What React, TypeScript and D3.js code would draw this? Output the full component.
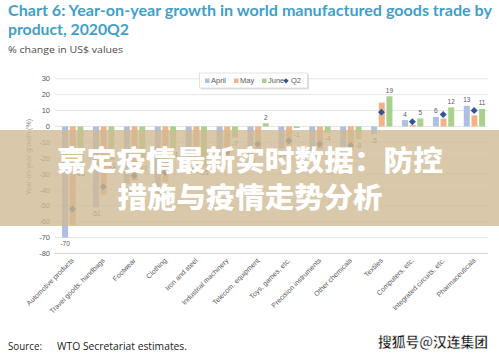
import React from "react";
import * as d3 from "d3";

const categories = [
  "Automotive products",
  "Travel goods, handbags",
  "Footwear",
  "Clothing",
  "Iron and steel",
  "Industrial machinery",
  "Telecom. equipment",
  "Toys, games, etc.",
  "Precision instruments",
  "Other chemicals",
  "Textiles",
  "Computers, etc.",
  "Integrated circuits, etc.",
  "Pharmaceuticals",
];
const april = [-70, -51, -36, -38, -24, -20, -18, -14, -16, -14, -5, 4, 6, 13];
const may = [-62, -43, -34, -35, -29, -22, -16, -12, -14, -15, 15, 1, 5, 7];
const june = [-26, -21, -23, -14, -25, -7, 2, -1, -4, -8, 19, 5, 12, 11];
const q2 = [-52, -38, -31, -29, -26, -16, -11, -9, -11, -12, 9, 3, 7.5, 10];
const yTicks = [30, 20, 10, 0, -10, -20, -30, -40, -50, -60, -70, -80];
const seriesNames = ["April", "May", "June"];
const seriesColors = ["#aebfe2", "#f2b388", "#a9d18e"];
const q2Color = "#2f5597";
const labeledSeries = [0, 2]; // April and June bars carry data labels

const W = 499;
const H = 356;

export default function App() {
  const x = d3.scaleBand<string>().domain(categories).range([57, 489.6]).padding(0);
  const y = d3.scaleLinear().domain([-80, 30]).range([253.5, 78.8]);
  const sub = d3.scaleBand<string>().domain(seriesNames).range([-11.2, 11.8]);
  const barW = 6;
  const series = [april, may, june];
  const diamond = d3.symbol().type(d3.symbolSquare).size(24)();
  const grey = "#595959";
  const labelFont = "'Liberation Sans', Arial, sans-serif";

  return (
    <svg
      width={W}
      height={H}
      viewBox={`0 0 ${W} ${H}`}
      style={{ position: "absolute", left: 0, top: 0, background: "#fff" }}
    >
      <rect x={0} y={0} width={W} height={H} fill="#fff" />
      {/* Title */}
      <text x={8} y={16} fill="#3f9fcb" fontFamily="Lato, 'Open Sans', sans-serif" fontWeight={700} fontSize={15.5} textLength={484} lengthAdjust="spacingAndGlyphs">
        Chart 6: Year-on-year growth in world manufactured goods trade by
      </text>
      <text x={8} y={35} fill="#3f9fcb" fontFamily="Lato, 'Open Sans', sans-serif" fontWeight={700} fontSize={15.5} textLength={121} lengthAdjust="spacingAndGlyphs">
        product, 2020Q2
      </text>
      <text x={8} y={53} fill="#4d4d4d" fontFamily="'Open Sans', sans-serif" fontSize={9.5} textLength={115} lengthAdjust="spacingAndGlyphs">
        % change in US$ values
      </text>

      {/* Gridlines and y ticks */}
      {yTicks.map((t) => (
        <g key={t}>
          <line x1={55} x2={488} y1={y(t)} y2={y(t)} stroke={t === -80 ? "#cfcfcf" : "#dedede"} strokeWidth={0.8} />
          <text x={50} y={y(t) + 2.6} textAnchor="end" fontSize={7.5} fill={grey} fontFamily={labelFont}>
            {t}
          </text>
        </g>
      ))}
      <text
        transform={`translate(31,${157}) rotate(-90)`}
        textAnchor="middle"
        fontSize={7}
        fill="#8a8a8a"
        fontFamily={labelFont}
      >
        Year-on-year growth (%)
      </text>

      {/* Bars */}
      {series.map((vals, si) =>
        vals.map((v, ci) => {
          const cx = (x(categories[ci]) as number) + x.bandwidth() / 2;
          const bx = cx + (sub(seriesNames[si]) as number) + (sub.bandwidth() - barW) / 2;
          return (
            <rect
              key={`${si}-${ci}`}
              x={bx}
              y={Math.min(y(v), y(0))}
              width={barW}
              height={Math.abs(y(v) - y(0))}
              fill={seriesColors[si]}
            />
          );
        })
      )}
      {/* Data labels */}
      {labeledSeries.map((si) =>
        series[si].map((v, ci) => {
          const cx = (x(categories[ci]) as number) + x.bandwidth() / 2;
          const lx = cx + (sub(seriesNames[si]) as number) + sub.bandwidth() / 2;
          const ly = v >= 0 ? y(v) - 3.5 : y(v) + 8.5;
          return (
            <text key={`l${si}-${ci}`} x={lx} y={ly} textAnchor="middle" fontSize={6.5} fill={grey} fontFamily={labelFont}>
              {v}
            </text>
          );
        })
      )}
      {/* Q2 diamonds */}
      {q2.map((v, ci) => {
        const cx = (x(categories[ci]) as number) + x.bandwidth() / 2;
        return (
          <path key={`q${ci}`} d={diamond as string} transform={`translate(${cx},${y(v)}) rotate(45)`} fill={q2Color} />
        );
      })}

      {/* X labels */}
      {categories.map((c) => {
        const cx = (x(c) as number) + x.bandwidth() / 2 + 2;
        return (
          <text
            key={c}
            transform={`translate(${cx},261) rotate(-45)`}
            textAnchor="end"
            fontSize={7}
            fill={grey}
            fontFamily={labelFont}
          >
            {c}
          </text>
        );
      })}

      {/* Legend */}
      <g>
        <rect x={201} y={74.5} width={108} height={15} fill="#000" opacity={0.12} />
        <rect x={199.5} y={73} width={108} height={15} fill="#fff" stroke="#d0d0d0" strokeWidth={0.6} />
        {[
          { t: "April", mx: 205, tx: 211 },
          { t: "May", mx: 234, tx: 240 },
          { t: "June", mx: 262, tx: 268 },
        ].map((it, i) => (
          <g key={it.t}>
            <rect x={it.mx} y={78.5} width={4.5} height={4.5} fill={seriesColors[i]} />
            <text x={it.tx} y={83.2} fontSize={7.5} fill={grey} fontFamily={labelFont}>
              {it.t}
            </text>
          </g>
        ))}
        <path d={d3.symbol().type(d3.symbolSquare).size(14)() as string} transform="translate(286,80.8) rotate(45)" fill={q2Color} />
        <text x={291} y={83.2} fontSize={7.5} fill={grey} fontFamily={labelFont}>
          Q2
        </text>
      </g>

      {/* Footer */}
      <text x={8} y={350} fontSize={11} fill="#222" fontFamily="'Open Sans', sans-serif" textLength={34} lengthAdjust="spacingAndGlyphs">
        Source:
      </text>
      <text x={57} y={350} fontSize={11} fill="#222" fontFamily="'Open Sans', sans-serif" textLength={130} lengthAdjust="spacingAndGlyphs">
        WTO Secretariat estimates.
      </text>

      {/* Overlay banner */}
      <rect x={0} y={130} width={W} height={96} fill="rgb(208,186,148)" opacity={0.8} />
      <text x={250} y={171} textAnchor="middle" fill="#fff" fontSize={28} fontWeight={900} fontFamily="'Noto Sans CJK SC', sans-serif" textLength={386} lengthAdjust="spacingAndGlyphs">
        嘉定疫情最新实时数据：防控
      </text>
      <text x={250} y={208} textAnchor="middle" fill="#fff" fontSize={28} fontWeight={900} fontFamily="'Noto Sans CJK SC', sans-serif" textLength={265} lengthAdjust="spacingAndGlyphs">
        措施与疫情走势分析
      </text>

      {/* Watermark */}
      <text x={378} y={347} fill="#111" stroke="#fff" strokeWidth={0.4} fontSize={14} fontWeight={700} fontFamily="'Noto Sans CJK SC', sans-serif" textLength={110} lengthAdjust="spacingAndGlyphs">
        搜狐号@汉连集团
      </text>
    </svg>
  );
}
